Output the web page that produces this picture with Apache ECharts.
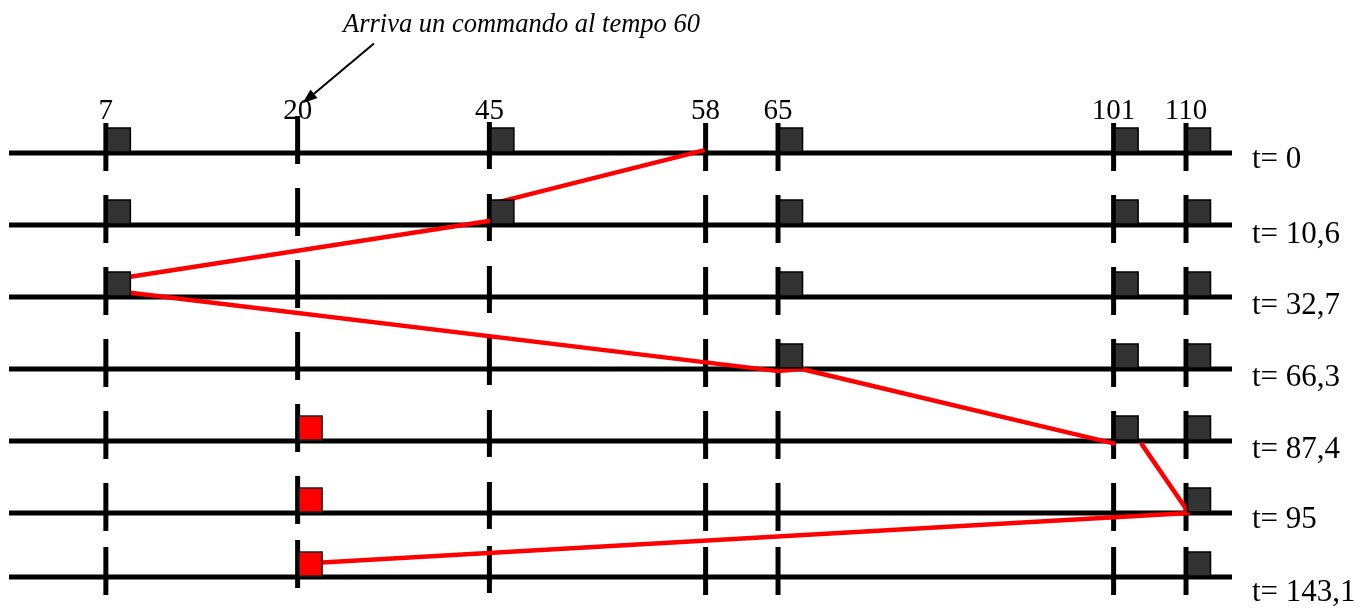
<!DOCTYPE html>
<html><head><meta charset="utf-8">
<script src="https://cdn.jsdelivr.net/npm/echarts@6/dist/echarts.min.js"></script>
<style>html,body{margin:0;padding:0;background:#fff}#c{width:1369px;height:609px}</style>
</head><body><div id="c"></div>
<script>
// ---- data ----
const tracks = ['7', '20', '45', '58', '65', '101', '110'];
const trackPos = [9.9, 29.5, 49.1, 71.2, 78.6, 112.9, 120.3];   // schematic horizontal position of each track
const timeLabels = ['t= 0', 't= 10,6', 't= 32,7', 't= 66,3', 't= 87,4', 't= 95', 't= 143,1'];
const rowPos = [0, 1, 2, 3, 4, 5, 5.89];                          // vertical position of each time row
const pendingOld = [['7','45','65','101','110'], ['7','45','65','101','110'], ['7','65','101','110'],
                    ['65','101','110'], ['101','110'], ['110'], ['110']];
const pendingNew = [[], [], [], [], ['20'], ['20'], ['20']];
const seekSegments = [
  [[71.1, -0.04], [49.2, 0.71]],
  [[49.2, 0.94], [12.4, 1.72]],
  [[12.4, 1.94], [78.6, 3.03], [81.0, 3.0], [113.1, 4.04]],
  [[115.7, 4.03], [120.6, 5.0], [32.0, 5.69]]
];
const arrowFrom = [37.3, -1.52];
const arrowTo = [30.0, -0.69];
const titleText = 'Arriva un commando al tempo 60';
const lineStart = 0, lineEnd = 125;

// ---- styling ----
const tickUp = [30, 37, 31, 30, 30, 30, 30];
const tickDown = [18, 11, 16, 18, 18, 18, 18];
const tLabelDy = [7, 10, 9, 9, 9, 7, 16];
const SERIF = '"Liberation Serif", "Times New Roman", serif';

const chart = echarts.init(document.getElementById('c'));

const rowData = rowPos.map((r, i) => [i]);
const tickData = [];
rowPos.forEach((r, ri) => trackPos.forEach((p, ti) => tickData.push([ti, ri])));
const oldSq = [], newSq = [];
pendingOld.forEach((list, ri) => list.forEach(t => oldSq.push([tracks.indexOf(t), ri])));
pendingNew.forEach((list, ri) => list.forEach(t => newSq.push([tracks.indexOf(t), ri])));

function squareRender(fill, stroke) {
  return function (params, api) {
    const ti = api.value(0), ri = api.value(1);
    const c = api.coord([trackPos[ti], rowPos[ri]]);
    return { type: 'rect', shape: { x: c[0] + 1.5, y: c[1] - 25, width: 23, height: 24 },
             style: { fill: fill, stroke: stroke, lineWidth: 1.5 } };
  };
}

const series = [
  { type: 'custom', z: 1, silent: true, data: rowData, clip: false,
    renderItem: function (params, api) {
      const ri = api.value(0);
      const a = api.coord([lineStart, rowPos[ri]]), b = api.coord([lineEnd, rowPos[ri]]);
      return { type: 'line', shape: { x1: a[0], y1: a[1], x2: b[0], y2: b[1] },
               style: { stroke: '#000', lineWidth: 5 } };
    } },
  { type: 'custom', z: 2, silent: true, data: tickData, clip: false,
    renderItem: function (params, api) {
      const ti = api.value(0), ri = api.value(1);
      const c = api.coord([trackPos[ti], rowPos[ri]]);
      return { type: 'line', shape: { x1: c[0], y1: c[1] - tickUp[ti], x2: c[0], y2: c[1] + tickDown[ti] },
               style: { stroke: '#000', lineWidth: 5 } };
    } },
  { type: 'custom', z: 2, silent: true, data: rowData, clip: false,
    renderItem: function (params, api) {
      const ri = api.value(0);
      const c = api.coord([lineEnd, rowPos[ri]]);
      return { type: 'text', style: { x: c[0] + 20, y: c[1] + tLabelDy[ri], text: timeLabels[ri],
               fill: '#000', font: '31px ' + SERIF, textAlign: 'left', textVerticalAlign: 'middle' } };
    } }
];
seekSegments.forEach(seg => series.push({
  type: 'line', z: 3, silent: true, clip: false, symbol: 'none', data: seg,
  lineStyle: { color: '#ff0000', width: 4.5, cap: 'butt' }
}));
series.push(
  { type: 'custom', z: 4, silent: true, clip: false, data: oldSq, renderItem: squareRender('#333333', '#000') },
  { type: 'custom', z: 4, silent: true, clip: false, data: newSq, renderItem: squareRender('#ff0000', '#222') },
  { type: 'custom', z: 5, silent: true, clip: false, data: [[0]],
    renderItem: function (params, api) {
      const p1 = api.coord(arrowFrom), p2 = api.coord(arrowTo);
      const ang = Math.atan2(p2[1] - p1[1], p2[0] - p1[0]);
      const L = 15, W = 5.5;
      const bx = p2[0] - L * Math.cos(ang), by = p2[1] - L * Math.sin(ang);
      const nx = -Math.sin(ang), ny = Math.cos(ang);
      return { type: 'group', children: [
        { type: 'line', shape: { x1: p1[0], y1: p1[1], x2: bx, y2: by }, style: { stroke: '#000', lineWidth: 2 } },
        { type: 'polygon', shape: { points: [[p2[0], p2[1]], [bx + W * nx, by + W * ny], [bx - W * nx, by - W * ny]] },
          style: { fill: '#000' } }
      ] };
    } }
);

chart.setOption({
  animation: false,
  backgroundColor: '#fff',
  title: { text: titleText, left: 343, top: 12, padding: 0,
           textStyle: { fontFamily: SERIF, fontStyle: 'italic', fontWeight: 'normal', fontSize: 26.5, color: '#000' } },
  grid: { left: 9, right: 137, top: 153, bottom: 32, containLabel: false },
  xAxis: { type: 'value', min: lineStart, max: lineEnd, position: 'top',
           axisLine: { show: false }, axisTick: { show: false }, splitLine: { show: false },
           axisLabel: { customValues: trackPos, margin: 27, fontSize: 29, fontFamily: SERIF, color: '#000',
                        formatter: function (v) { const i = trackPos.indexOf(v); return i >= 0 ? tracks[i] : ''; } } },
  yAxis: { type: 'value', min: 0, max: 5.89, inverse: true, show: false },
  series: series
});
</script></body></html>
